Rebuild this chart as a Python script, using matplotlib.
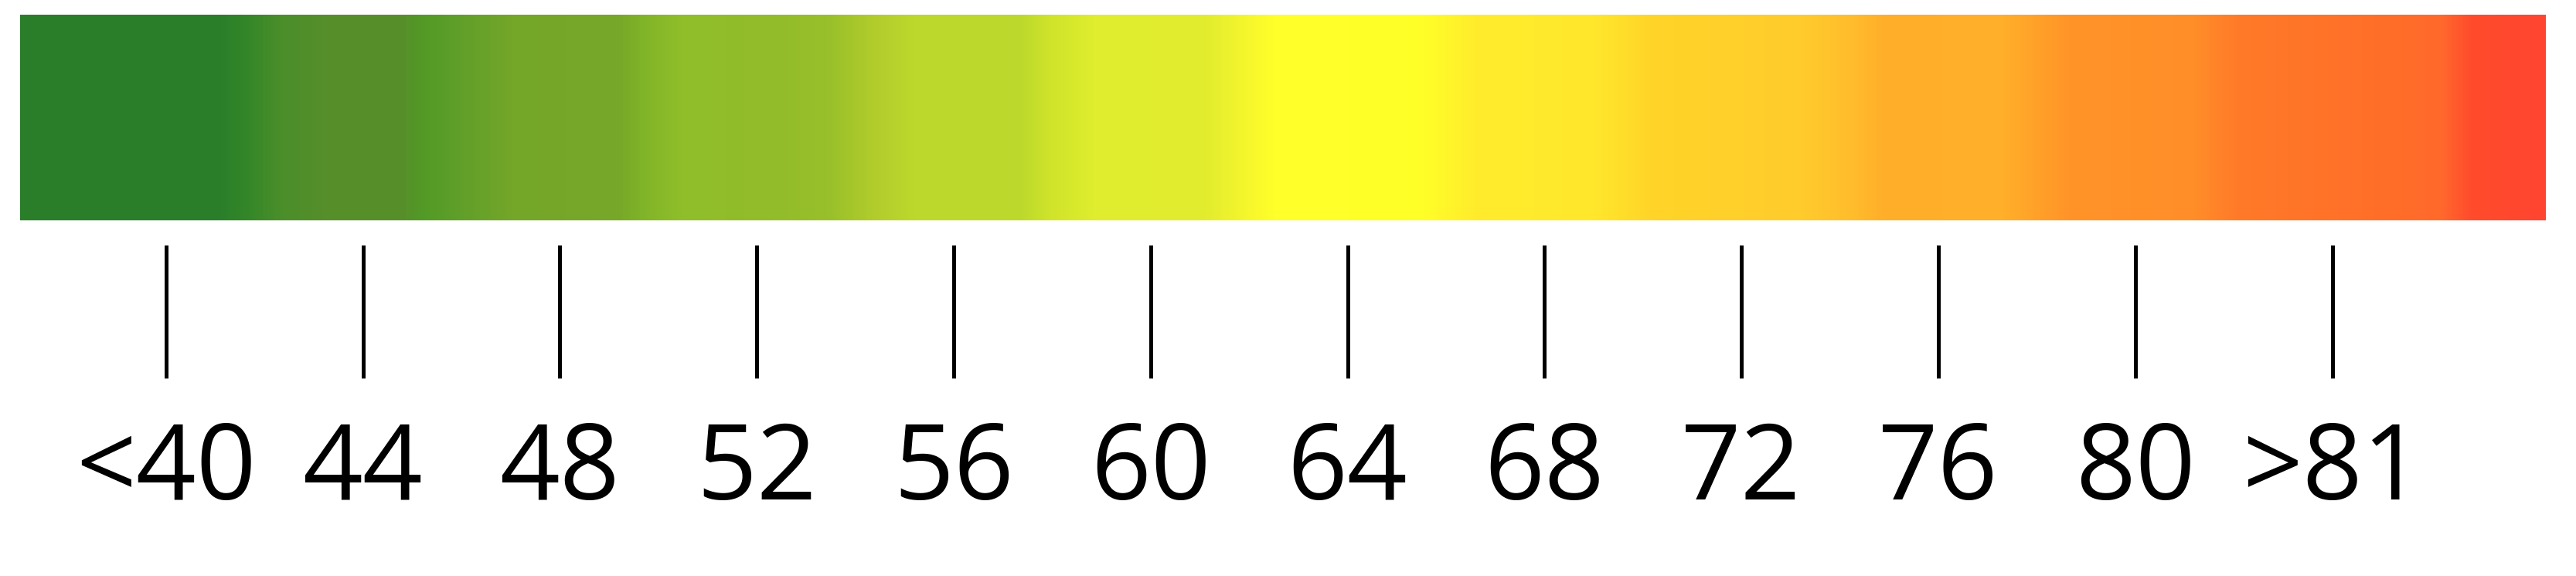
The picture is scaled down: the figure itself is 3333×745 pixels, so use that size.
import numpy as np
import matplotlib
matplotlib.use("Agg")
import matplotlib.pyplot as plt
from matplotlib.colors import LinearSegmentedColormap

# ---- data ----
tick_labels = ["<40", "44", "48", "52", "56", "60", "64", "68", "72", "76", "80", ">81"]
tick_values = [40, 44, 48, 52, 56, 60, 64, 68, 72, 76, 80, 81]

# colour ramp (fraction along bar, colour)
ramp_fracs = [0.0, 0.0774, 0.0887, 0.102, 0.1206, 0.151, 0.159, 0.1756, 0.194, 0.2368,
              0.246, 0.261, 0.298, 0.3195, 0.338, 0.353, 0.396, 0.408, 0.4266, 0.469,
              0.4878, 0.497, 0.555, 0.5765, 0.622, 0.647, 0.705, 0.7264, 0.7387, 0.7846,
              0.812, 0.861, 0.879, 0.928, 0.959, 0.971, 0.998, 1.0]
ramp_colors = ["#2a7e2a", "#2a7e2a", "#338628", "#4a8e2a", "#568f2a", "#578f2a", "#529a26",
               "#62a02a", "#74a628", "#78a828", "#80b428", "#90be2a", "#93bc2a", "#98c02a",
               "#b2cc2c", "#bcd82c", "#bcd92c", "#d0e42a", "#e0ee2e", "#e2ec2e", "#f8f82c",
               "#ffff2a", "#ffff28", "#ffec2c", "#ffe82c", "#ffd428", "#ffcc2c", "#ffbc2c",
               "#ffae2a", "#ffb02a", "#ff9428", "#ff8e28", "#ff7a28", "#ff7028", "#ff6a2c",
               "#ff4c2c", "#ff4530", "#ff4530"]

cmap = LinearSegmentedColormap.from_list("legend", list(zip(ramp_fracs, ramp_colors)), N=1024)

W, H = 3333, 745
fig = plt.figure(figsize=(W / 100, H / 100), dpi=100)
ax = fig.add_axes([0, 0, 1, 1])

n = len(tick_labels)
idx = np.arange(n)
# layout in index units
step_px = 254.8
first_px = 214.7
x0 = -first_px / step_px
x1 = (W - first_px) / step_px
ax.set_xlim(x0, x1)
ax.set_ylim(H, 0)
ax.axis("off")

bar_left = (26 - first_px) / step_px
bar_right = (3294 - first_px) / step_px
grad = np.linspace(0, 1, 1024)[None, :]
ax.imshow(grad, cmap=cmap, aspect="auto", extent=(bar_left, bar_right, 285, 19),
          interpolation="bilinear")

ax.vlines(idx, 317, 489, color="black", linewidth=3.6)
for i, lab in zip(idx, tick_labels):
    ax.text(i, 646, lab, ha="center", va="baseline", fontsize=98,
            family=["Open Sans", "DejaVu Sans"], color="black")

ax.set_xlim(x0, x1)
ax.set_ylim(H, 0)
fig.savefig("out.png", dpi=100, facecolor="white")
